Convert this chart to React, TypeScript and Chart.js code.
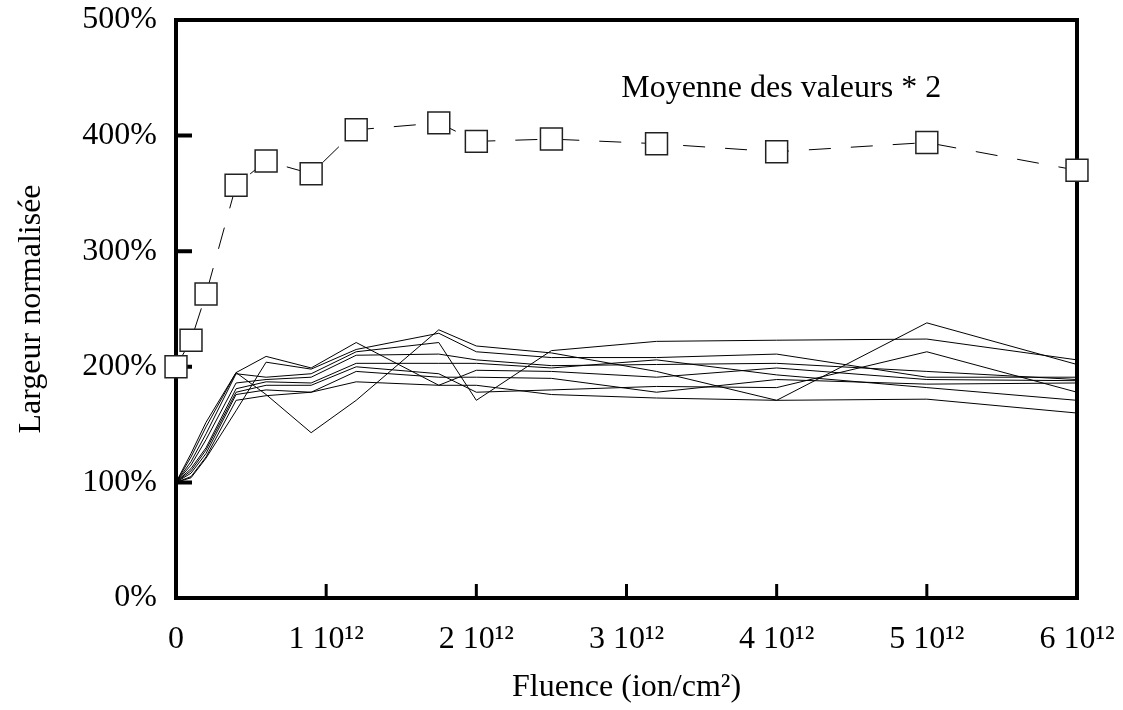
import React, { useEffect, useRef } from 'react';
import { Chart, registerables } from 'chart.js';

Chart.register(...registerables);

const E12 = 1e12;
// Fluence values (×10^12 ion/cm²)
const fluence = [0, 0.1, 0.2, 0.4, 0.6, 0.9, 1.2, 1.75, 2, 2.5, 3.2, 4, 5, 6];
// Mean of the normalised widths, multiplied by 2 (%)
const meanTimes2 = [200, 223, 263, 357, 378, 367, 405, 411, 395, 397, 393, 386, 394, 370];
// Individual normalised widths (%)
const sampleP = [100, 125, 152, 195, 176, 143, 171, 232, 218, 212, 196, 171, 238, 202];
const sampleC = [100, 122, 148, 195, 209, 199, 221, 184, 197, 196, 191, 199, 189, 188];
const sampleA = [100, 104, 121, 162, 204, 198, 215, 229, 213, 208, 208, 211, 191, 191];
const sampleT = [100, 118, 142, 194, 191, 194, 213, 221, 171, 214, 222, 223, 224, 206];
const sampleB = [100, 115, 137, 186, 189, 191, 210, 211, 206, 201, 202, 203, 196, 189];
const sampleD = [100, 112, 130, 181, 187, 186, 203, 203, 203, 199, 206, 193, 182, 171];
const sampleQ = [100, 110, 128, 178, 184, 184, 200, 194, 178, 180, 183, 182, 213, 178];
const sampleE = [100, 108, 125, 176, 180, 178, 196, 191, 191, 190, 178, 189, 185, 186];
const sampleF = [100, 105, 122, 171, 175, 178, 187, 184, 184, 176, 173, 171, 172, 160];
const samples = [sampleP, sampleC, sampleA, sampleT, sampleB, sampleD, sampleQ, sampleE, sampleF];

const xTickValues = [0, 1, 2, 3, 4, 5, 6];
const yTickValues = [0, 100, 200, 300, 400, 500];
const innerYTicks = [100, 200, 300, 400];
const innerXTicks = [1, 2, 3, 4, 5];

const annotationText = 'Moyenne des valeurs * 2';
const annotationX = 4.03; // ×10^12
const annotationY = 433; // %
const xTitle = 'Fluence (ion/cm²)';
const yTitle = 'Largeur normalisée';

const FONT = '"Liberation Serif", "Times New Roman", Times, serif';

const framePlugin = {
  id: 'frame',
  beforeDatasetsDraw(chart: any) {
    const { ctx, chartArea } = chart;
    const xs = chart.scales.x;
    const ys = chart.scales.y;
    ctx.save();
    ctx.strokeStyle = '#000';
    ctx.lineWidth = 4;
    ctx.strokeRect(chartArea.left, chartArea.top, chartArea.right - chartArea.left, chartArea.bottom - chartArea.top);
    ctx.beginPath();
    innerYTicks.forEach((v) => {
      const y = ys.getPixelForValue(v);
      ctx.moveTo(chartArea.left, y);
      ctx.lineTo(chartArea.left + 16, y);
    });
    ctx.stroke();
    ctx.lineWidth = 3;
    ctx.beginPath();
    innerXTicks.forEach((v) => {
      const x = xs.getPixelForValue(v * E12);
      ctx.moveTo(x, chartArea.bottom);
      ctx.lineTo(x, chartArea.bottom - 14);
    });
    ctx.stroke();
    ctx.restore();
  },
  afterDatasetsDraw(chart: any) {
    const { ctx } = chart;
    const xs = chart.scales.x;
    const ys = chart.scales.y;
    ctx.save();
    ctx.fillStyle = '#000';
    ctx.font = `32px ${FONT}`;
    ctx.textAlign = 'center';
    ctx.textBaseline = 'alphabetic';
    ctx.fillText(annotationText, xs.getPixelForValue(annotationX * E12), ys.getPixelForValue(annotationY));
    ctx.restore();
  },
};

export default function App() {
  const canvasRef = useRef<HTMLCanvasElement | null>(null);

  useEffect(() => {
    const canvas = canvasRef.current;
    if (!canvas) return;
    const datasets: any[] = [
      {
        label: annotationText,
        data: fluence.map((f, i) => ({ x: f * E12, y: meanTimes2[i] })),
        borderColor: '#000',
        borderWidth: 1,
        borderDash: [22, 20],
        pointStyle: 'rect',
        pointRadius: 15.5,
        pointBackgroundColor: '#fff',
        pointBorderColor: '#222',
        pointBorderWidth: 1.5,
        clip: false,
        tension: 0,
      },
      ...samples.map((s, k) => ({
        label: `Mesure ${k + 1}`,
        data: fluence.map((f, i) => ({ x: f * E12, y: s[i] })),
        borderColor: '#000',
        borderWidth: 1,
        pointRadius: 0,
        tension: 0,
      })),
    ];

    const tickFont = { family: FONT, size: 32 };
    const chart = new Chart(canvas, {
      type: 'line',
      data: { datasets },
      options: {
        animation: false,
        responsive: false,
        devicePixelRatio: 1,
        layout: { padding: { top: 20, right: 46, left: 0, bottom: 0 } },
        plugins: { legend: { display: false }, tooltip: { enabled: false } },
        scales: {
          x: {
            type: 'linear',
            min: 0,
            max: 6 * E12,
            afterBuildTicks: (s: any) => {
              s.ticks = xTickValues.map((v) => ({ value: v * E12 }));
            },
            afterFit: (s: any) => {
              s.height = 112;
              s.paddingLeft = 0;
              s.paddingRight = 0;
            },
            ticks: {
              autoSkip: false,
              maxRotation: 0,
              padding: 22,
              color: '#000',
              font: tickFont,
              callback: (v: any) => (v === 0 ? '0' : `${Math.round(v / E12)} 10¹²`),
            },
            grid: { display: false, drawTicks: false },
            border: { display: false },
            title: {
              display: true,
              text: xTitle,
              color: '#000',
              font: tickFont,
              padding: { top: 0, bottom: 3 },
            },
          },
          y: {
            type: 'linear',
            min: 0,
            max: 500,
            afterBuildTicks: (s: any) => {
              s.ticks = yTickValues.map((v) => ({ value: v }));
            },
            afterFit: (s: any) => {
              s.width = 176;
              s.paddingTop = 0;
              s.paddingBottom = 0;
            },
            ticks: {
              padding: 19,
              color: '#000',
              font: tickFont,
              callback: (v: any) => `${v}%`,
            },
            grid: { display: false, drawTicks: false },
            border: { display: false },
            title: {
              display: true,
              text: yTitle,
              color: '#000',
              font: tickFont,
              padding: { top: 12, bottom: 0 },
            },
          },
        },
      },
      plugins: [framePlugin],
    });
    return () => chart.destroy();
  }, []);

  return (
    <div style={{ position: 'fixed', left: 0, top: 0, width: 1123, height: 710, background: '#fff' }}>
      <canvas ref={canvasRef} width={1123} height={710} style={{ display: 'block' }} />
    </div>
  );
}
